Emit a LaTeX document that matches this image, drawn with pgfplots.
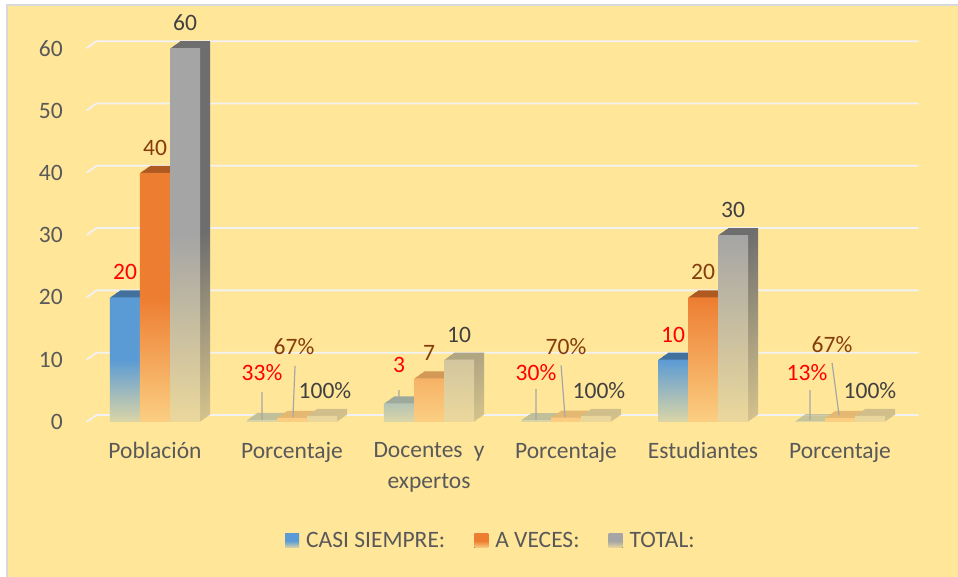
\documentclass[border=0pt]{standalone}
\usepackage{fontspec}
\setmainfont{Carlito}
\usepackage{pgfplots}
\usepackage{pgfplotstable}
\pgfplotsset{compat=1.18}

\definecolor{bg}{HTML}{FFE699}
\definecolor{cblue}{HTML}{5B9BD5}
\definecolor{corange}{HTML}{ED7D31}
\definecolor{cgray}{HTML}{A5A5A5}
\definecolor{dblue}{HTML}{41719C}
\definecolor{dorange}{HTML}{AE5A21}
\definecolor{dgray}{HTML}{6E6E6E}
\definecolor{txt}{HTML}{595959}
\definecolor{labred}{HTML}{FF0000}
\definecolor{labbrown}{HTML}{843C0C}
\definecolor{labgray}{HTML}{404040}
\definecolor{gridc}{HTML}{F2F2F2}
\definecolor{leader}{HTML}{A6A6A6}

% x = category, y = value, lab = data label, off/dx = label shift (pt)
\pgfplotstableread{
x y lab off dx
0 20 20 17.5 0
1 0.33 33\% 39.5 0
2 3 3 30.5 0
3 0.30 30\% 39.5 0
4 10 10 17.5 0
5 0.13 13\% 40.5 -3
}\casisiempre
\pgfplotstableread{
x y lab off dx
0 40 40 17.5 0
1 0.67 67\% 63.5 2
2 7 7 17.5 0
3 0.70 70\% 63 0
4 20 20 17.5 0
5 0.67 67\% 65.5 -8
}\aveces
\pgfplotstableread{
x y lab off dx
0 60 60 17.5 0
1 1 100\% 17.5 3
2 10 10 17.5 0
3 1 100\% 17.5 3
4 30 30 17.5 0
5 1 100\% 17.5 0
}\total

\newcommand\bigfont{\fontsize{23.5}{31}\selectfont}

% #1 table, #2 x offset, #3 colour, #4 dark colour, #5 label colour, #6 legend
\newcommand\barseries[6]{%
  \pgfplotsinvokeforeach{10,9,...,1}{%
    \addplot[ybar, bar width=0.219, bar shift=0pt, draw=none, forget plot,
      top color=#4, bottom color=#4!30!bg, middle color=#4,
      xshift=##1pt, yshift=##1*0.7pt]
      table[x expr=\thisrow{x}+#2, y=y] #1;
  }
  \addplot[ybar, bar width=0.219, bar shift=0pt, draw=none,
      top color=#3, bottom color=#3!22!bg, middle color=#3,
      point meta=explicit symbolic,
      visualization depends on={\thisrow{off} \as \off},
      visualization depends on={\thisrow{dx} \as \dx},
      nodes near coords,
      nodes near coords style={anchor=base, inner sep=0pt, font=\bigfont,
        text=#5, yshift=\off pt, xshift=\dx pt}]
      table[x expr=\thisrow{x}+#2, y=y, meta=lab] #1;
  \addlegendentry{#6}
}

\begin{document}
\begin{tikzpicture}
% axis origin (0,0) sits at pixel (86.5, 422) of the 958x577 frame
\fill[bg] (-79.5pt,-155pt) rectangle (871.5pt,417pt);
\draw[black!15, line width=2pt] (-79.5pt,-155pt) -- (-79.5pt,417pt) -- (871.5pt,417pt);
\begin{axis}[
  at={(0pt,0pt)}, anchor=south west,
  scale only axis, width=822pt, height=373.8pt,
  xmin=-0.5, xmax=5.5, ymin=0, ymax=60,
  clip=false,
  axis line style={draw=none}, major tick length=0pt,
  xtick={0,...,5},
  xticklabels={Población,Porcentaje,{Docentes\hspace{0.25em} y\\expertos},Porcentaje,Estudiantes,Porcentaje},
  ytick={0,10,...,60},
  /pgf/number format/assume math mode=true,
  ticklabel style={font=\bigfont, text=txt},
  xticklabel style={anchor=north, inner sep=0pt, yshift=-20pt, align=center},
  yticklabel style={anchor=east, inner sep=0pt, xshift=-23.5pt},
  legend columns=3,
  legend image code/.code={\fill[#1] (0pt,-7pt) rectangle (14pt,7pt);
    \path (0pt,0pt) -- (19pt,0pt);},
  legend style={at={(0.492,-0.318)}, anchor=center, draw=none, fill=none,
    font=\bigfont, text=txt,
    /tikz/every even column/.append style={column sep=27pt}},
]
\pgfplotsinvokeforeach{0,10,...,60}{
  \draw[gridc, line width=1.8pt] (axis cs:-0.5,#1) -- ++(10pt,7pt)
    -- ([xshift=10pt,yshift=7pt]axis cs:5.5,#1);
}
\barseries{\casisiempre}{-0.219}{cblue}{dblue}{labred}{CASI SIEMPRE:}
\barseries{\aveces}{0}{corange}{dorange}{labbrown}{A VECES:}
\barseries{\total}{0.219}{cgray}{dgray}{labgray}{TOTAL:}
\addplot[leader, line width=1.2pt, forget plot, unbounded coords=jump] coordinates {
  (0.781,0.3)(0.781,4.8) (nan,nan) (1.007,0.8)(1.022,9.0) (nan,nan)
  (1.781,3)(1.781,5.1) (nan,nan)
  (2.781,0.3)(2.781,5.3) (nan,nan) (2.993,0.8)(2.964,9.1) (nan,nan)
  (4.781,0.3)(4.781,5.1) (nan,nan) (4.993,1.1)(4.942,9.5)};
\end{axis}
\pgfresetboundingbox
\path[use as bounding box] (-86.5pt,-155pt) rectangle (871.5pt,422pt);
\end{tikzpicture}
\end{document}
